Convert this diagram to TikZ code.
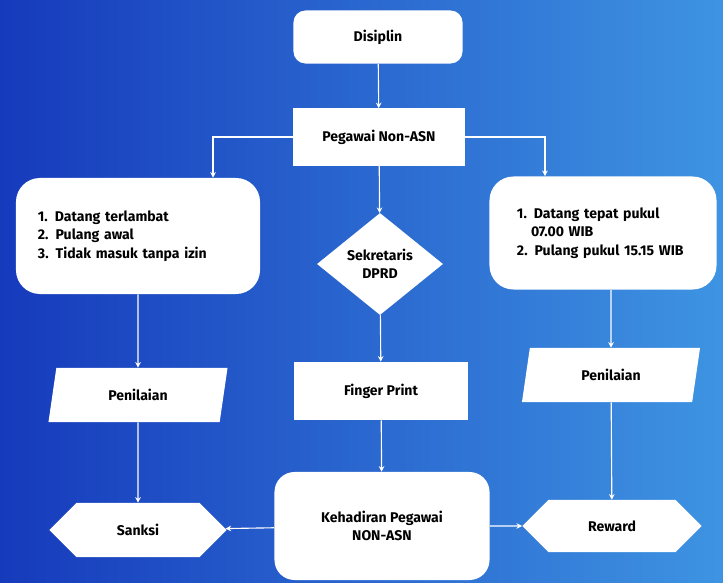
\documentclass[tikz,border=0pt]{standalone}
\usepackage{fontspec}
\setmainfont{Fira Sans}
\usetikzlibrary{arrows.meta,shapes.geometric,shapes.symbols}
\definecolor{bgdark}{RGB}{22,58,188}
\definecolor{bglight}{RGB}{62,148,226}
\tikzset{
  box/.style={rectangle, fill=white, inner sep=2pt, align=center},
  rbox/.style={box, rounded corners=0.3cm},
  decision/.style={diamond, fill=white, inner sep=0pt, align=center, aspect=1.25},
  dataio/.style={trapezium, trapezium left angle=56, trapezium right angle=124,
    trapezium stretches body, fill=white, inner sep=0pt},
  hexa/.style={signal, signal to=west and east, signal pointer angle=90, fill=white, inner sep=0pt},
  flow/.style={white, line width=0.8pt, -{Stealth[length=4pt,width=4pt]}}
}
\begin{document}
\begin{tikzpicture}[x=0.025cm, y=-0.025cm, font=\fontsize{10}{13}\selectfont\bfseries]
%latar biru
  \shade[left color=bgdark, right color=bglight] (0,0) rectangle (723,583);
  \useasboundingbox (0,0) rectangle (723,583);
%kolom tengah
  \node[rbox, minimum width=4.225cm, minimum height=1.325cm] (disiplin) at (378,37) {Disiplin};
  \node[box, minimum width=4.3cm, minimum height=1.425cm] (pegawai) at (379,137) {Pegawai Non-ASN};
  \node[decision, minimum width=3.15cm, minimum height=2.55cm] (sekdprd) at (380,264) {Sekretaris\\DPRD};
  \node[box, minimum width=4.325cm, minimum height=1.45cm] (finger) at (381,391) {Finger Print};
  \node[rbox, rounded corners=0.5cm, minimum width=5.375cm, minimum height=2.7cm] (hadir) at (382,526) {Kehadiran Pegawai\\NON-ASN};
%kolom kiri
  \node[rbox, rounded corners=0.6cm, minimum width=6.1cm, minimum height=2.9cm, text width=5cm, align=left] (langgar) at (138,236)
    {1. Datang terlambat\\2. Pulang awal\\3. Tidak masuk tanpa izin};
  \node[dataio, minimum width=4.475cm, minimum height=1.35cm] (nilaikiri) at (138,395) {Penilaian};
  \node[hexa, minimum width=4.425cm, minimum height=1.35cm] (sanksi) at (138,530) {Sanksi};
%kolom kanan
  \node[rbox, rounded corners=0.6cm, minimum width=5.675cm, minimum height=2.825cm, text width=4.3cm, align=left] (tepat) at (603,233)
    {1. Datang tepat pukul\\\hspace*{1em}07.00 WIB\\2. Pulang pukul 15.15 WIB};
  \node[dataio, minimum width=4.45cm, minimum height=1.35cm] (nilaikanan) at (611,375) {Penilaian};
  \node[hexa, minimum width=4.475cm, minimum height=1.3cm] (reward) at (612,526) {Reward};
%alur
  \draw[flow] (disiplin) -- (pegawai);
  \draw[flow] (pegawai) -- (sekdprd);
  \draw[flow] (sekdprd) -- (finger);
  \draw[flow] (finger) -- (hadir);
  \draw[flow] (pegawai.west) -| ([xshift=1.875cm]langgar.north);
  \draw[flow] (pegawai.east) -| ([xshift=-1.45cm]tepat.north);
  \draw[flow] (langgar) -- (nilaikiri);
  \draw[flow] (nilaikiri) -- (sanksi);
  \draw[flow] (tepat.south -| nilaikanan) -- (nilaikanan);
  \draw[flow] (nilaikanan) -- (reward);
  \draw[flow] (hadir) -- (sanksi);
  \draw[flow] (hadir) -- (reward);
\end{tikzpicture}
\end{document}
